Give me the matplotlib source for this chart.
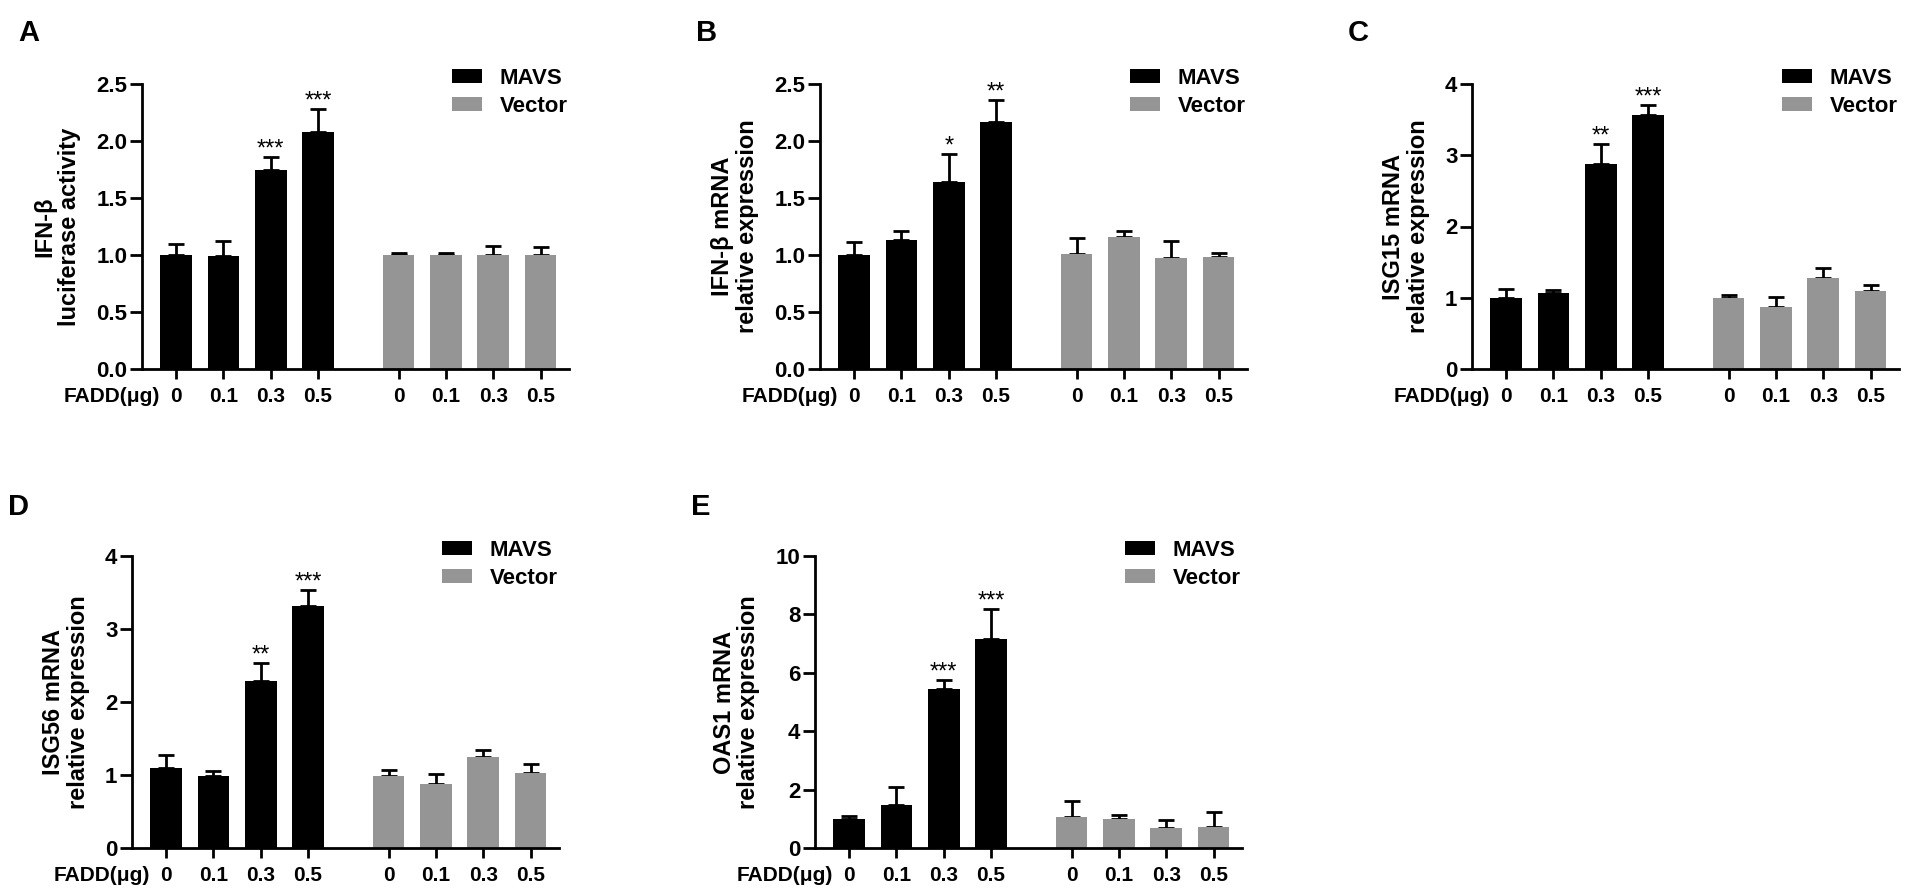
import matplotlib
matplotlib.use("Agg")
import matplotlib.pyplot as plt
import numpy as np

plt.rcParams['font.family'] = ['Liberation Sans', 'DejaVu Sans']
plt.rcParams['font.weight'] = 'bold'

# doses (tick labels) and group names
doses = ["0", "0.1", "0.3", "0.5"]
groups = ["MAVS", "Vector"]

# A - IFN-b luciferase
a_mavs = [1.00, 0.99, 1.75, 2.08]
a_mavs_err = [0.10, 0.13, 0.11, 0.20]
a_vec = [1.00, 1.00, 1.00, 1.00]
a_vec_err = [0.02, 0.02, 0.08, 0.07]
a_stars = ["", "", "***", "***"]

# B - IFN-b mRNA
b_mavs = [1.00, 1.13, 1.64, 2.17]
b_mavs_err = [0.11, 0.08, 0.25, 0.19]
b_vec = [1.01, 1.16, 0.97, 0.98]
b_vec_err = [0.14, 0.05, 0.15, 0.04]
b_stars = ["", "", "*", "**"]

# C - ISG15 mRNA
c_mavs = [1.00, 1.06, 2.88, 3.57]
c_mavs_err = [0.12, 0.05, 0.28, 0.13]
c_vec = [1.00, 0.87, 1.28, 1.10]
c_vec_err = [0.04, 0.14, 0.14, 0.08]
c_stars = ["", "", "**", "***"]

# D - ISG56 mRNA
d_mavs = [1.10, 0.99, 2.29, 3.31]
d_mavs_err = [0.18, 0.06, 0.24, 0.23]
d_vec = [0.99, 0.87, 1.24, 1.03]
d_vec_err = [0.08, 0.14, 0.10, 0.12]
d_stars = ["", "", "**", "***"]

# E - OAS1 mRNA
e_mavs = [0.99, 1.47, 5.43, 7.17]
e_mavs_err = [0.10, 0.62, 0.32, 1.01]
e_vec = [1.06, 1.00, 0.67, 0.71]
e_vec_err = [0.55, 0.13, 0.30, 0.51]
e_stars = ["", "", "***", "***"]

W, H = 1907, 893
fig = plt.figure(figsize=(W / 100, H / 100), dpi=100)

BLACK = '#000000'
GRAY = '#959595'


def panel(letter, left_px, top_px, bottom_px, ylab, yticks, ytl,
          mavs, mavs_err, vec, vec_err, stars):
    w_px = 427
    h_px = bottom_px - top_px
    ax = fig.add_axes([left_px / W, 1 - bottom_px / H, w_px / W, h_px / H])
    x_m = np.arange(4)
    x_v = np.arange(4) + 4.7
    ax.bar(x_m, mavs, width=0.67, color=BLACK, label=groups[0], zorder=2)
    ax.bar(x_v, vec, width=0.67, color=GRAY, label=groups[1], zorder=2)
    ax.errorbar(x_m, mavs, yerr=[np.zeros(4), mavs_err], fmt='none',
                ecolor='black', elinewidth=2, capsize=5.8, capthick=2, zorder=1)
    ax.errorbar(x_v, vec, yerr=[np.zeros(4), vec_err], fmt='none',
                ecolor='black', elinewidth=2, capsize=5.8, capthick=2, zorder=1)
    for x, v, e, s in zip(x_m, mavs, mavs_err, stars):
        if s:
            ax.annotate(s, xy=(x, v + e), xytext=(0, 1), textcoords='offset points',
                        ha='center', va='baseline', fontsize=17, fontweight='normal')
    ax.set_xlim(-0.72, 8.3)
    ax.set_ylim(0, yticks[-1])
    ax.set_yticks(yticks)
    ax.set_yticklabels(ytl, fontsize=16, fontweight='bold')
    ax.set_xticks(np.concatenate([x_m, x_v]))
    ax.set_xticklabels(doses * 2, fontsize=15, fontweight='bold')
    for side in ['top', 'right']:
        ax.spines[side].set_visible(False)
    for side in ['left', 'bottom']:
        ax.spines[side].set_linewidth(2)
    ax.tick_params(axis='y', width=2, length=9, pad=1.5)
    ax.tick_params(axis='x', width=2, length=7, pad=6)
    ax.set_ylabel(ylab, fontsize=17, fontweight='bold', labelpad=11, linespacing=1.1)
    ax.annotate("FADD(μg)", xy=(-0.35, 0), xycoords=('data', 'axes fraction'),
                xytext=(0, -13), textcoords='offset points', ha='right', va='top',
                fontsize=15, fontweight='bold')
    ax.legend(loc='upper left', bbox_to_anchor=(0.726, 1 + 16 / h_px),
              frameon=False, handlelength=1.35, handleheight=0.63,
              handletextpad=0.8, labelspacing=0.3, borderpad=0, borderaxespad=0,
              prop={'weight': 'bold', 'size': 16})
    fig.text((left_px - 124) / W, 1 - 33 / H if top_px < 300 else 1 - 507 / H,
             letter, fontsize=21, fontweight='bold', ha='left', va='center')
    return ax


panel("A", 142, 84, 369, "IFN-β\nluciferase activity",
      [0, 0.5, 1.0, 1.5, 2.0, 2.5], ["0.0", "0.5", "1.0", "1.5", "2.0", "2.5"],
      a_mavs, a_mavs_err, a_vec, a_vec_err, a_stars)
panel("B", 820, 84, 369, "IFN-β mRNA\nrelative expression",
      [0, 0.5, 1.0, 1.5, 2.0, 2.5], ["0.0", "0.5", "1.0", "1.5", "2.0", "2.5"],
      b_mavs, b_mavs_err, b_vec, b_vec_err, b_stars)
panel("C", 1472, 84, 369, "ISG15 mRNA\nrelative expression",
      [0, 1, 2, 3, 4], ["0", "1", "2", "3", "4"],
      c_mavs, c_mavs_err, c_vec, c_vec_err, c_stars)
panel("D", 132, 556, 848, "ISG56 mRNA\nrelative expression",
      [0, 1, 2, 3, 4], ["0", "1", "2", "3", "4"],
      d_mavs, d_mavs_err, d_vec, d_vec_err, d_stars)
panel("E", 815, 556, 848, "OAS1 mRNA\nrelative expression",
      [0, 2, 4, 6, 8, 10], ["0", "2", "4", "6", "8", "10"],
      e_mavs, e_mavs_err, e_vec, e_vec_err, e_stars)

fig.savefig("out.png", dpi=100)
